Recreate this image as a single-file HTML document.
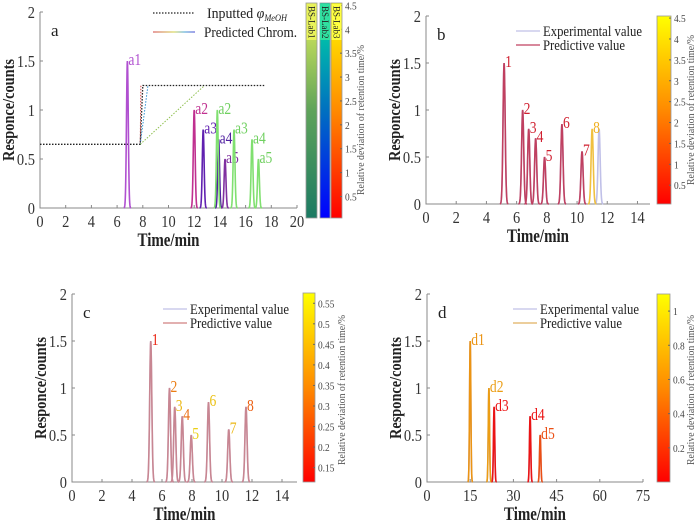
<!DOCTYPE html>
<html><head><meta charset="utf-8"><style>
html,body{margin:0;padding:0;background:#fff}
svg{display:block;font-family:"Liberation Serif",serif}
</style></head><body>
<svg id="fig" width="700" height="522" viewBox="0 0 700 522" xmlns="http://www.w3.org/2000/svg">
<defs>
<linearGradient id="gLab1" x1="0" y1="1" x2="0" y2="0"><stop offset="0" stop-color="#1b7a63"/><stop offset="0.5" stop-color="#5fa35a"/><stop offset="1" stop-color="#e6f25a"/></linearGradient>
<linearGradient id="gLab2" x1="0" y1="1" x2="0" y2="0"><stop offset="0" stop-color="#0000ff"/><stop offset="0.5" stop-color="#0070c0"/><stop offset="1" stop-color="#00e0a0"/></linearGradient>
<linearGradient id="gRY" x1="0" y1="1" x2="0" y2="0"><stop offset="0" stop-color="#ff0000"/><stop offset="0.5" stop-color="#ff8a00"/><stop offset="1" stop-color="#ffff00"/></linearGradient>
<linearGradient id="gLeg" gradientUnits="userSpaceOnUse" x1="153" y1="0" x2="195" y2="0"><stop offset="0" stop-color="#e08080"/><stop offset="0.5" stop-color="#e0e080"/><stop offset="0.75" stop-color="#80c0e0"/><stop offset="1" stop-color="#8080e0"/></linearGradient>
</defs>
</svg>
<script>
// ---------- data ----------
const yTicks = [0, 0.5, 1, 1.5, 2];
const yTickLabels = ["0", "0.5", "1", "1.5", "2"];
// panel a
const aXTicks = [0,2,4,6,8,10,12,14,16,18,20];
const aPeakLabels = ["a1","a2","a3","a4","a5"];
const aPredTimes = [6.8, 12.0, 12.7, 13.9, 14.4];
const aPredHeights = [1.5, 1.0, 0.8, 0.7, 0.5];
const aPredColors = ["#b050d0","#c03090","#6020b0","#5020a0","#8030a0"];
const aGreenTimes = [13.8, 15.1, 16.5, 17.0];
const aGreenHeights = [1.0, 0.8, 0.7, 0.5];
const aGreenLabels = ["a2","a3","a4","a5"];
const aGradT = [0, 7.8, 8.0, 17.5];
const aGradPhi = [0.65, 0.65, 1.25, 1.25];
const aLabRedEnd = 7.85, aLabBlueEnd = 8.4, aLabGreenEnd = 12.8;
const aCbTicks = [0.5,1,1.5,2,2.5,3,3.5,4,4.5];
// panel b
const bcXTicks = [0,2,4,6,8,10,12,14];
const bcLabels = ["1","2","3","4","5","6","7","8"];
const bExpTimes = [5.17, 6.4, 6.8, 7.26, 7.85, 9.0, 10.33, 11.46];
const bPredTimes = [5.17, 6.4, 6.8, 7.26, 7.85, 9.0, 10.33, 11.0];
const bHeights = [1.5, 1.0, 0.8, 0.7, 0.5, 0.85, 0.56, 0.8];
const bDev = [0.3, 0.4, 0.5, 0.4, 0.5, 0.4, 0.5, 3.4];
const bCbTicks = [0.5,1,1.5,2,2.5,3,3.5,4,4.5];
// panel c
const cTimes = [5.25, 6.5, 6.85, 7.35, 7.95, 9.1, 10.45, 11.6];
const cHeights = [1.5, 1.0, 0.8, 0.7, 0.5, 0.85, 0.56, 0.8];
const cDev = [0.2, 0.38, 0.5, 0.35, 0.55, 0.52, 0.5, 0.32];
const cCbTicks = [0.15,0.2,0.25,0.3,0.35,0.4,0.45,0.5,0.55];
// panel d
const dXTicks = [0,15,30,45,60,75];
const dLabels = ["d1","d2","d3","d4","d5"];
const dTimes = [15.0, 21.5, 23.3, 35.8, 39.3];
const dHeights = [1.5, 1.0, 0.8, 0.7, 0.5];
const dDev = [0.75, 0.8, 0.1, 0.1, 0.4];
const dCbTicks = [0.2,0.4,0.6,0.8,1];

const NS = "http://www.w3.org/2000/svg";
const svg = document.getElementById("fig");
function mk(tag, attrs, parent){ const e=document.createElementNS(NS,tag); for(const k in attrs) e.setAttribute(k,attrs[k]); (parent||svg).appendChild(e); return e; }
function squeeze(el, len){ el.setAttribute("textLength", len); el.setAttribute("lengthAdjust","spacingAndGlyphs"); }
function shrink(el, f){ try{ const L=el.getComputedTextLength(); if(L>0) squeeze(el,(L*f).toFixed(1)); }catch(e){} }
function ryColor(f){ f=Math.max(0,Math.min(1,f)); const g=Math.round(255*f); return "rgb(235,"+Math.round(g*0.85)+",20)"; }

function axes(P, xTicks, xmax, tag){
  const g = mk("g", {});
  
  
  P.sx = t => P.x0 + (t/xmax)*(P.x1-P.x0);
  P.sy = v => P.y0 - (v/2)*(P.y0-P.y1);
  const ax = mk("path", {d:`M${P.x0},${P.y1} V${P.y0} H${P.x1}`, fill:"none", stroke:"#888", "stroke-width":1}, g);
  
  
  yTicks.forEach((v,i)=>{
    const y=P.sy(v);
    mk("line",{x1:P.x0,x2:P.x0+3,y1:y,y2:y,stroke:"#888"},g);
    const t=mk("text",{x:P.x0-5,y:y+6,"text-anchor":"end","font-size":17,fill:"#333"},g);
    t.textContent=yTickLabels[i];
    
    
    shrink(t,0.85);
  });
  xTicks.forEach(v=>{
    const x=P.sx(v);
    mk("line",{x1:x,x2:x,y1:P.y0,y2:P.y0-3,stroke:"#888"},g);
    const t=mk("text",{x:x,y:P.y0+19,"text-anchor":"middle","font-size":17,fill:"#333"},g);
    t.textContent=String(v);
    
    
    shrink(t,0.85);
  });
  const xt=mk("text",{x:(P.x0+P.x1)/2,y:P.y0+38,"text-anchor":"middle","font-size":19,"font-weight":"bold",fill:"#222"},g);
  xt.textContent="Time/min";
  
  
  squeeze(xt,62);
  const cy=(P.y0+P.y1)/2, cx=P.x0-26;
  const yt=mk("text",{x:cx,y:cy,"text-anchor":"middle","font-size":17,"font-weight":"bold",fill:"#222",transform:`rotate(-90 ${cx} ${cy})`},g);
  yt.textContent="Responce/counts";
  
  
  squeeze(yt,102);
  const pl=mk("text",{x:P.x0+11,y:P.y1+24,"font-size":17,fill:"#222"},g);
  pl.textContent=tag;
  
  
  return g;
}
function peak(P, g, t, h, sig, color, xmax, name){
  let d="";
  const n=40;
  for(let i=0;i<=n;i++){
    const tt=t-4*sig+8*sig*i/n;
    const v=h*Math.exp(-((tt-t)*(tt-t))/(2*sig*sig));
    d+=(i?"L":"M")+P.sx(tt).toFixed(2)+","+P.sy(v).toFixed(2);
  }
  const p=mk("path",{d:d,fill:"none",stroke:color,"stroke-width":1.6},g);
  
  
}
function label(P,g,t,h,txt,color){
  const e=mk("text",{x:P.sx(t)+1,y:P.sy(h)+4,"font-size":17,fill:color},g);
  e.textContent=txt;
  
  
  shrink(e,0.8);
}
function colorbar(g,x,y1,y0,w,grad,ticks,tmin,tmax,name){
  const r=mk("rect",{x:x,y:y1,width:w,height:y0-y1,fill:"url(#"+grad+")",stroke:"#999","stroke-width":0.8},g);
  
  
  if(!ticks) return;
  ticks.forEach(v=>{
    const y=y0-(v-tmin)/(tmax-tmin)*(y0-y1);
    mk("line",{x1:x+w-2,x2:x+w,y1:y,y2:y,stroke:"#666"},g);
    const t=mk("text",{x:x+w+3,y:y+4,"font-size":11,fill:"#444"},g);
    t.textContent=String(v);
    
    
    shrink(t,0.85);
  });
}
function cbTitle(g,x,cy){
  const t=mk("text",{x:x,y:cy,"text-anchor":"middle","font-size":10,fill:"#555",transform:`rotate(-90 ${x} ${cy})`},g);
  t.textContent="Relative deviation of retention time/%";
  
  
  squeeze(t,150);
}
function legend(g,x,y,c1,c2,t1,t2){
  [[c1,t1,y,99],[c2,t2,y+14,82]].forEach(([c,tx,yy,L],i)=>{
    mk("line",{x1:x,x2:x+24,y1:yy,y2:yy,stroke:c,"stroke-width":1.2},g);
    const t=mk("text",{x:x+27,y:yy+5,"font-size":15,fill:"#222"},g);
    t.textContent=tx;
    
    
    squeeze(t,L);
  });
}

// ---------- panel a ----------
const A={x0:40,x1:297,y0:208,y1:12};
const ga=axes(A,aXTicks,20,"a");
let gd="";
aGradT.forEach((t,i)=>{gd+=(i?"L":"M")+A.sx(t)+","+A.sy(aGradPhi[i]);});
const gl=mk("path",{d:gd,fill:"none",stroke:"#222","stroke-width":1.3,"stroke-dasharray":"1.5,1.5"},ga);


[[aLabRedEnd,"#d04040"],[aLabBlueEnd,"#3090d0"],[aLabGreenEnd,"#90c050"]].forEach(([te,c])=>{
  const l=mk("line",{x1:A.sx(aGradT[1]),y1:A.sy(aGradPhi[1]),x2:A.sx(te),y2:A.sy(aGradPhi[2]),stroke:c,"stroke-width":1,"stroke-dasharray":"1.5,1.5"},ga);
  
  
});
aPredTimes.forEach((t,i)=>{ peak(A,ga,t,aPredHeights[i],0.07,aPredColors[i],20,"peak-"+aPeakLabels[i]); label(A,ga,t,aPredHeights[i],aPeakLabels[i],aPredColors[i]); });
aGreenTimes.forEach((t,i)=>{ peak(A,ga,t,aGreenHeights[i],0.07,"#80e070",20,"peak-green-"+aGreenLabels[i]); label(A,ga,t,aGreenHeights[i],aGreenLabels[i],"#70d060"); });
mk("line",{x1:153,x2:195,y1:13,y2:13,stroke:"#222","stroke-width":1.3,"stroke-dasharray":"1.5,1.5"},ga);
const la1=mk("text",{x:207,y:18,"font-size":15,fill:"#222"},ga);
la1.innerHTML='Inputted <tspan font-style="italic">φ</tspan><tspan font-size="9" font-style="italic" dy="3">MeOH</tspan>';


squeeze(la1,80);
mk("line",{x1:153,x2:195,y1:32,y2:32,stroke:"url(#gLeg)","stroke-width":1.5},ga);
const la2=mk("text",{x:204,y:37,"font-size":15,fill:"#222"},ga);
la2.textContent="Predicted Chrom.";


squeeze(la2,93);
colorbar(ga,306,3,218,11,"gLab1",null,0,1,"colorbar-bs-lab1");
colorbar(ga,320,3,218,10,"gLab2",null,0,1,"colorbar-bs-lab2");
colorbar(ga,331,3,218,11,"gRY",aCbTicks,0.05,4.55,"colorbar-bs-lab3");
["BS-Lab1","BS-Lab2","BS-Lab3"].forEach((s,i)=>{
  const x=[311.5,325,336.5][i];
  mk("rect",{x:x-5,y:4,width:10,height:36,fill:["#e8f25a","#30e0a0","#ffff40"][i]},ga);
  const t=mk("text",{x:x,y:6,"font-size":9,fill:"#222","text-anchor":"start",transform:`rotate(90 ${x} 6) translate(0 3)`},ga);
  t.textContent=s;
  
  
});
cbTitle(ga,364,120);

// ---------- panel b ----------
const B={x0:426,x1:650,y0:204,y1:16};
const gb=axes(B,bcXTicks,14.83,"b");
bExpTimes.forEach((t,i)=>peak(B,gb,t,bHeights[i],0.07,"#c0c0e8",14.83,"exp-peak-"+bcLabels[i]));
bPredTimes.forEach((t,i)=>{ const c=bDev[i]>2?"#f0c040":"#c04060"; peak(B,gb,t,bHeights[i],0.07,c,14.83,"pred-peak-"+bcLabels[i]); label(B,gb,t,bHeights[i],bcLabels[i],bDev[i]>2?"#f0b020":"#d02030"); });
legend(gb,516,31,"#c0c0e8","#c04060","Experimental value","Predictive value");
colorbar(gb,657,16,204,14,"gRY",bCbTicks,0.05,4.55,"colorbar-b");
cbTitle(gb,694,110);

// ---------- panel c ----------
const C={x0:72,x1:297,y0:482,y1:294};
const gc=axes(C,bcXTicks,15,"c");
cTimes.forEach((t,i)=>{ peak(C,gc,t,cHeights[i],0.07,"#c8b8d8",15,"exp-peak-c"+bcLabels[i]); peak(C,gc,t,cHeights[i],0.07,"rgba(200,100,100,0.6)",15,"pred-peak-c"+bcLabels[i]); label(C,gc,t,cHeights[i],bcLabels[i],ryColor((cDev[i]-0.12)/0.45)); });
legend(gc,163,309,"#c0c0e8","#d08080","Experimental value","Predictive value");
colorbar(gc,303,293,482,12,"gRY",cCbTicks,0.115,0.575,"colorbar-c");
cbTitle(gc,345,390);

// ---------- panel d ----------
const D={x0:427,x1:643,y0:482,y1:294};
const gdd=axes(D,dXTicks,75,"d");
dTimes.forEach((t,i)=>{ peak(D,gdd,t,dHeights[i],0.22,"#c0b0d8",75,"exp-peak-"+dLabels[i]); const c=ryColor(dDev[i]/1.1); peak(D,gdd,t,dHeights[i],0.22,c,75,"pred-peak-"+dLabels[i]); label(D,gdd,t,dHeights[i],dLabels[i],c); });
legend(gdd,513,309,"#c0c0e8","#e0b060","Experimental value","Predictive value");
colorbar(gdd,657,294,482,13,"gRY",dCbTicks,0,1.1,"colorbar-d");
cbTitle(gdd,694,390);
</script>
</body></html>
